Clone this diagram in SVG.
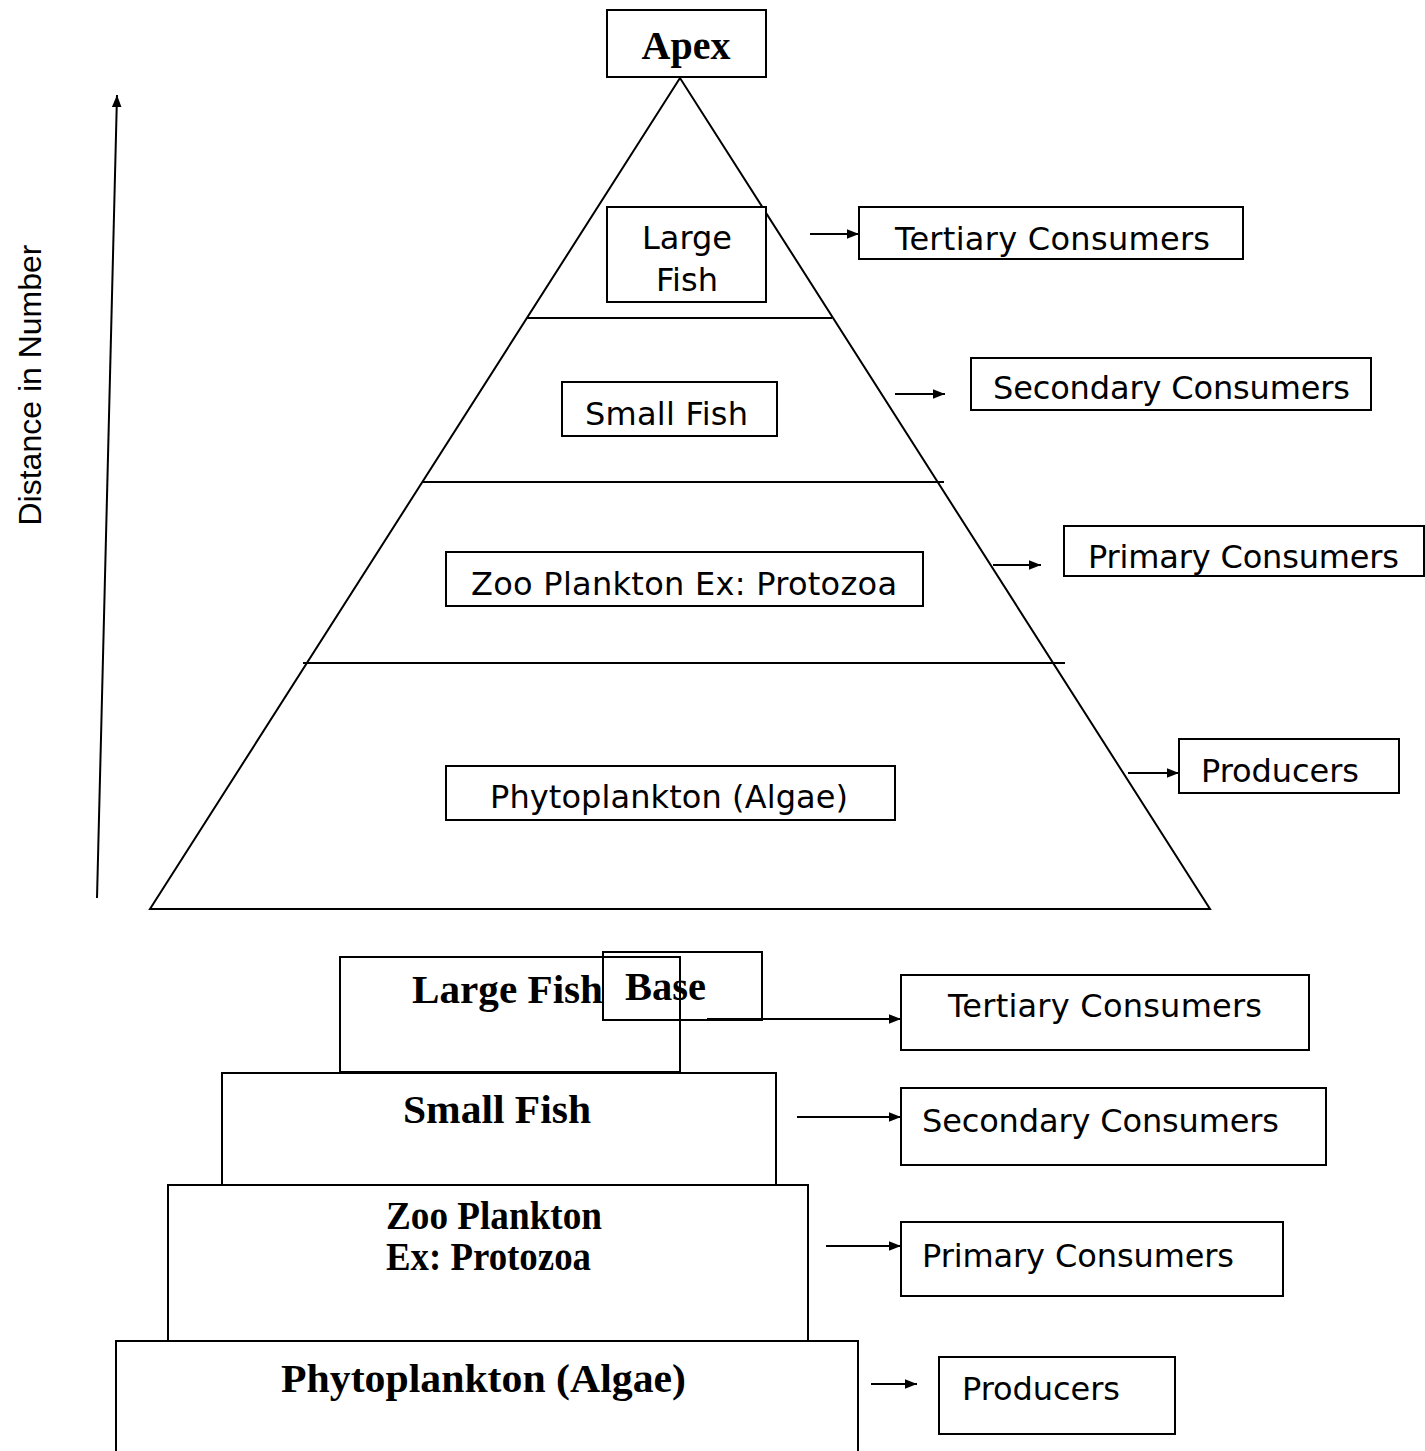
<svg xmlns="http://www.w3.org/2000/svg" width="1425" height="1451" viewBox="0 0 1425 1451">
<style>
.box{fill:#fff;stroke:#000;stroke-width:2}
.ln{fill:none;stroke:#000;stroke-width:2}
.s{font-family:"DejaVu Sans",Verdana,sans-serif;font-size:32px;fill:#000}
.b{font-family:"Liberation Serif","Times New Roman",serif;font-size:40px;font-weight:bold;fill:#000}
.a{font-family:"Liberation Sans",Arial,sans-serif;font-size:32px;fill:#000}
</style>
<defs>
<marker id="ah" markerUnits="userSpaceOnUse" markerWidth="12" markerHeight="12" viewBox="0 0 10 10" refX="10" refY="5" orient="auto">
<path d="M0,1 L10,5 L0,9 Z" fill="#000"/>
</marker>
</defs>
<rect width="1425" height="1451" fill="#fff"/>
<g id="pyramid">
<path class="ln" d="M680,78 L150,909 L1210,909 Z"/>
<line class="ln" x1="527" y1="318" x2="832" y2="318"/>
<line class="ln" x1="423" y1="482" x2="944" y2="482"/>
<line class="ln" x1="303" y1="663" x2="1065" y2="663"/>
</g>
<g id="apex"><rect class="box" x="607" y="10" width="159" height="67"/><text class="b" x="686" y="59" text-anchor="middle">Apex</text></g>
<g id="axis-label"><text class="a" transform="translate(41,385) rotate(-90)" text-anchor="middle">Distance in Number</text></g>
<g id="t-large-fish"><rect class="box" x="607" y="207" width="159" height="95"/><text class="s" x="687" y="249" text-anchor="middle">Large</text><text class="s" x="687" y="291" text-anchor="middle">Fish</text></g>
<g id="t-tertiary"><rect class="box" x="859" y="207" width="384" height="52"/><text class="s" x="895" y="250" textLength="315">Tertiary Consumers</text></g>
<g id="t-small-fish"><rect class="box" x="562" y="382" width="215" height="54"/><text class="s" x="585" y="425" textLength="163">Small Fish</text></g>
<g id="t-secondary"><rect class="box" x="971" y="358" width="400" height="52"/><text class="s" x="993" y="399" textLength="357">Secondary Consumers</text></g>
<g id="t-zoo"><rect class="box" x="446" y="552" width="477" height="54"/><text class="s" x="471" y="595" textLength="426">Zoo Plankton Ex: Protozoa</text></g>
<g id="t-primary"><rect class="box" x="1064" y="526" width="360" height="50"/><text class="s" x="1088" y="568" textLength="311">Primary Consumers</text></g>
<g id="t-phyto"><rect class="box" x="446" y="766" width="449" height="54"/><text class="s" x="490" y="808" textLength="358">Phytoplankton (Algae)</text></g>
<g id="t-producers"><rect class="box" x="1179" y="739" width="220" height="54"/><text class="s" x="1201" y="782" textLength="158">Producers</text></g>
<g id="b-phyto"><rect class="box" x="116" y="1341" width="742" height="115"/><text class="b" x="281" y="1392" textLength="405" lengthAdjust="spacingAndGlyphs">Phytoplankton (Algae)</text></g>
<g id="b-zoo"><rect class="box" x="168" y="1185" width="640" height="156"/><text class="b" x="386" y="1229" textLength="216" lengthAdjust="spacingAndGlyphs">Zoo Plankton</text><text class="b" x="386" y="1270" textLength="205" lengthAdjust="spacingAndGlyphs">Ex: Protozoa</text></g>
<g id="b-small-fish"><rect class="box" x="222" y="1073" width="554" height="112"/><text class="b" x="403" y="1123" textLength="188" lengthAdjust="spacingAndGlyphs">Small Fish</text></g>
<g id="b-large-fish"><rect class="box" x="340" y="957" width="340" height="115"/><text class="b" x="412" y="1003" textLength="191" lengthAdjust="spacingAndGlyphs">Large Fish</text></g>
<g id="base"><rect x="603" y="952" width="159" height="68" fill="none" stroke="#000" stroke-width="2"/><text class="b" x="625" y="1000" textLength="81" lengthAdjust="spacingAndGlyphs">Base</text></g>
<g id="b-tertiary"><rect class="box" x="901" y="975" width="408" height="75"/><text class="s" x="948" y="1017" textLength="314">Tertiary Consumers</text></g>
<g id="b-secondary"><rect class="box" x="901" y="1088" width="425" height="77"/><text class="s" x="922" y="1132" textLength="357">Secondary Consumers</text></g>
<g id="b-primary"><rect class="box" x="901" y="1222" width="382" height="74"/><text class="s" x="922" y="1267" textLength="312">Primary Consumers</text></g>
<g id="b-producers"><rect class="box" x="939" y="1357" width="236" height="77"/><text class="s" x="962" y="1400" textLength="158">Producers</text></g>
<g id="connectors">
<line class="ln" x1="97" y1="898" x2="117" y2="95" marker-end="url(#ah)"/>
<line class="ln" x1="810" y1="234" x2="859" y2="234" marker-end="url(#ah)"/>
<line class="ln" x1="895" y1="394" x2="945" y2="394" marker-end="url(#ah)"/>
<line class="ln" x1="993" y1="565" x2="1041" y2="565" marker-end="url(#ah)"/>
<line class="ln" x1="1128" y1="773" x2="1179" y2="773" marker-end="url(#ah)"/>
<line class="ln" x1="707" y1="1019" x2="901" y2="1019" marker-end="url(#ah)"/>
<line class="ln" x1="797" y1="1117" x2="901" y2="1117" marker-end="url(#ah)"/>
<line class="ln" x1="826" y1="1246" x2="901" y2="1246" marker-end="url(#ah)"/>
<line class="ln" x1="871" y1="1384" x2="917" y2="1384" marker-end="url(#ah)"/>
</g>
</svg>
